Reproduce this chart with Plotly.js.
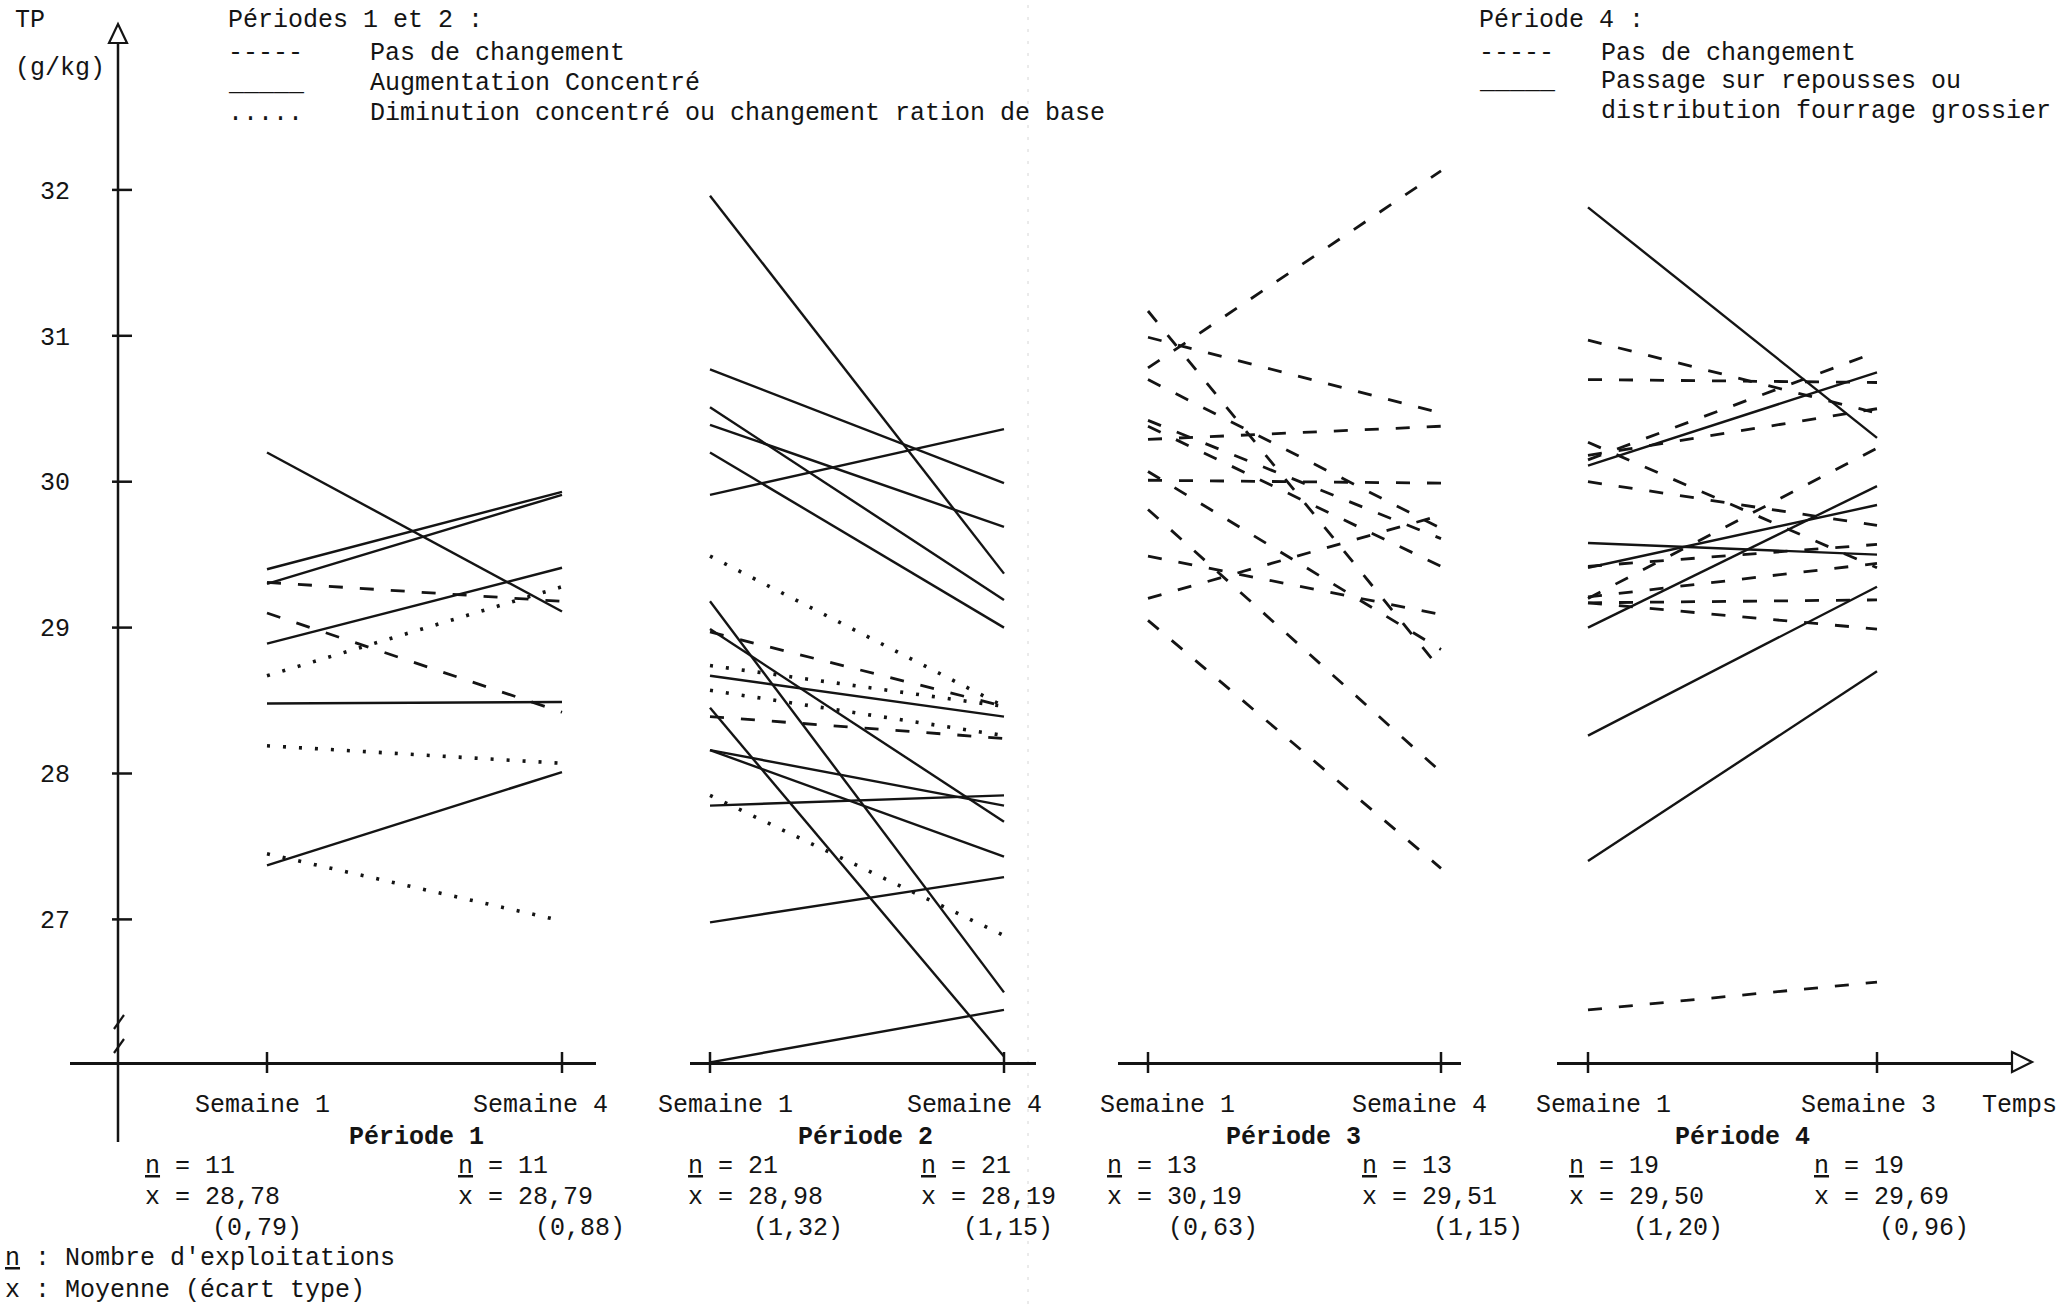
<!DOCTYPE html>
<html><head><meta charset="utf-8">
<script src="https://cdn.plot.ly/plotly-3.0.1.min.js"></script>
<style>html,body{margin:0;padding:0;background:#fff}</style>
</head><body>
<div id="chart" style="width:2063px;height:1304px"></div>
<script>
// ---------------- DATA ----------------
const periodNames = ["Période 1", "Période 2", "Période 3", "Période 4"];
const weekLabels = [["Semaine 1", "Semaine 4"], ["Semaine 1", "Semaine 4"], ["Semaine 1", "Semaine 4"], ["Semaine 1", "Semaine 3"]];
const weekNumbers = [[1, 4], [1, 4], [1, 4], [1, 3]];
const yTicks = [27, 28, 29, 30, 31, 32];

// Période 1 (TP g/kg, first and last week per farm)
const p1Start = [30.20, 29.40, 29.30, 28.89, 28.48, 27.37, 29.31, 29.10, 28.67, 28.19, 27.45];
const p1End   = [29.11, 29.93, 29.91, 29.41, 28.49, 28.01, 29.18, 28.42, 29.28, 28.07, 26.99];
const p1Kind  = ["aug", "aug", "aug", "aug", "aug", "aug", "pas", "pas", "dim", "dim", "dim"];

// Période 2
const p2Start = [31.96, 30.77, 30.51, 30.39, 30.20, 29.91, 29.18, 28.99, 28.67, 28.45, 28.16, 28.16, 27.78, 26.98, 26.02, 28.97, 28.39, 29.49, 28.74, 28.57, 27.85];
const p2End   = [29.37, 29.99, 29.19, 29.69, 29.00, 30.36, 26.50, 27.67, 28.39, 26.06, 27.78, 27.43, 27.85, 27.29, 26.38, 28.46, 28.24, 28.46, 28.46, 28.26, 26.89];
const p2Kind  = ["aug", "aug", "aug", "aug", "aug", "aug", "aug", "aug", "aug", "aug", "aug", "aug", "aug", "aug", "aug", "pas", "pas", "dim", "dim", "dim", "dim"];

// Période 3
const p3Start = [31.17, 30.99, 30.78, 30.70, 30.42, 30.38, 30.29, 30.07, 30.01, 29.81, 29.49, 29.20, 29.05];
const p3End   = [28.71, 30.47, 32.13, 29.68, 29.61, 29.42, 30.38, 28.85, 29.99, 28.01, 29.09, 29.77, 27.35];
const p3Kind  = ["pas", "pas", "pas", "pas", "pas", "pas", "pas", "pas", "pas", "pas", "pas", "pas", "pas"];

// Période 4
const p4Start = [31.88, 30.11, 29.58, 29.41, 29.00, 28.26, 27.40, 30.97, 30.70, 30.18, 30.15, 30.27, 30.00, 29.20, 29.21, 29.17, 29.17, 29.42, 26.38];
const p4End   = [30.30, 30.75, 29.50, 29.84, 29.97, 29.28, 28.70, 30.47, 30.68, 30.50, 30.89, 29.41, 29.70, 30.23, 29.44, 29.19, 28.99, 29.57, 26.57];
const p4Kind  = ["rep", "rep", "rep", "rep", "rep", "rep", "rep", "pas", "pas", "pas", "pas", "pas", "pas", "pas", "pas", "pas", "pas", "pas", "pas"];

// Summary statistics (n, mean, sd) for first / last week
const nValues    = [[11, 11], [21, 21], [13, 13], [19, 19]];
const meanValues = [[28.78, 28.79], [28.98, 28.19], [30.19, 29.51], [29.50, 29.69]];
const sdValues   = [[0.79, 0.88], [1.32, 1.15], [0.63, 1.15], [1.20, 0.96]];

// ---------------- LAYOUT CONSTANTS ----------------
const W = 2063, H = 1304;
const px = x => x / W;
const py = y => 1 - y / H;
const FONT = "Liberation Mono, Courier New, monospace";
const INK = "#141414";
const FS = 25;

const yPixTop = 40, yPixBottom = 1062, y27Pix = 919.4, y32Pix = 189.9;
const pxPerUnit = (y27Pix - y32Pix) / 5;
const yRange = [27 - (yPixBottom - y27Pix) / pxPerUnit, 27 + (y27Pix - yPixTop) / pxPerUnit];
const yAxisX = 118;

const axisSegments = [[70, 596], [690, 1036], [1118, 1461], [1557, 2012]];
const tickPix = [[267, 562], [710, 1004], [1148, 1441], [1588, 1877]];

const lineStyles = {
  pas: {dash: "14px,17px", width: 2.8},
  aug: {dash: "solid", width: 2.4},
  dim: {dash: "3px,13px", width: 3.6},
  rep: {dash: "solid", width: 2.4}
};

const panels = [
  {start: p1Start, end: p1End, kind: p1Kind},
  {start: p2Start, end: p2End, kind: p2Kind},
  {start: p3Start, end: p3End, kind: p3Kind},
  {start: p4Start, end: p4End, kind: p4Kind}
];

// ---------------- TRACES ----------------
const traces = [];
panels.forEach((p, i) => {
  const xa = "x" + (i === 0 ? "" : (i + 1));
  p.start.forEach((s, k) => {
    const st = lineStyles[p.kind[k]];
    traces.push({
      type: "scatter", mode: "lines",
      x: weekNumbers[i], y: [s, p.end[k]],
      xaxis: xa, yaxis: "y",
      line: {color: INK, width: st.width, dash: st.dash},
      hoverinfo: "skip", showlegend: false
    });
  });
});

// ---------------- AXES ----------------
const layout = {
  width: W, height: H,
  margin: {l: 0, r: 0, t: 0, b: 0},
  paper_bgcolor: "#fff", plot_bgcolor: "rgba(0,0,0,0)",
  showlegend: false,
  font: {family: FONT, size: FS, color: INK},
  yaxis: {
    domain: [py(yPixBottom), py(yPixTop)], range: yRange,
    anchor: "free", position: px(yAxisX), side: "left",
    showline: false, showgrid: false, zeroline: false,
    ticks: "", tickvals: yTicks, ticktext: yTicks.map(String),
    tickfont: {family: FONT, size: FS, color: INK},
    ticklabelstandoff: 48, fixedrange: true
  },
  shapes: [], annotations: []
};

axisSegments.forEach((seg, i) => {
  const [a, b] = weekNumbers[i];
  const [t1, t2] = tickPix[i];
  const s = (t2 - t1) / (b - a);
  const key = "xaxis" + (i === 0 ? "" : (i + 1));
  layout[key] = {
    domain: [px(seg[0]), px(seg[1])],
    range: [a + (seg[0] - t1) / s, a + (seg[1] - t1) / s],
    anchor: "y", showline: true, linewidth: 2.5, linecolor: INK,
    showgrid: false, zeroline: false, ticks: "", showticklabels: false,
    fixedrange: true
  };
  // crossing tick marks
  weekNumbers[i].forEach(w => {
    layout.shapes.push({type: "line", xref: "x" + (i === 0 ? "" : (i + 1)), yref: "paper",
      x0: w, x1: w, y0: py(yPixBottom + 11), y1: py(yPixBottom - 10),
      line: {color: INK, width: 2.5}});
  });
});

// y axis line, arrow, ticks, break marks
layout.shapes.push({type: "line", xref: "paper", yref: "paper",
  x0: px(yAxisX), x1: px(yAxisX), y0: py(1142), y1: py(42), line: {color: INK, width: 2.5}});
layout.shapes.push({type: "path", xref: "paper", yref: "paper",
  path: `M${px(yAxisX - 9)},${py(43)} L${px(yAxisX)},${py(24)} L${px(yAxisX + 9)},${py(43)} Z`,
  fillcolor: "#fff", line: {color: INK, width: 2.2}});
yTicks.forEach(v => {
  layout.shapes.push({type: "line", xref: "paper", yref: "y",
    x0: px(yAxisX - 6), x1: px(yAxisX + 14), y0: v, y1: v, line: {color: INK, width: 2.5}});
});
[1022, 1046].forEach(y => {
  layout.shapes.push({type: "line", xref: "paper", yref: "paper",
    x0: px(yAxisX - 4), x1: px(yAxisX + 6), y0: py(y + 7), y1: py(y - 7), line: {color: INK, width: 2.2}});
});
// time arrow at the end of the last axis
layout.shapes.push({type: "path", xref: "paper", yref: "paper",
  path: `M${px(2012)},${py(1052)} L${px(2032)},${py(1062)} L${px(2012)},${py(1072)} Z`,
  fillcolor: "#fff", line: {color: INK, width: 2.2}});
// faint fold line of the scanned page
layout.shapes.push({type: "line", xref: "paper", yref: "paper",
  x0: px(1028), x1: px(1028), y0: py(1304), y1: py(0),
  line: {color: "#d6d6d6", width: 1, dash: "3px,9px"}, layer: "below"});

// ---------------- TEXT ----------------
function txt(x, y, text, opts) {
  layout.annotations.push(Object.assign({
    xref: "paper", yref: "paper", x: px(x), y: py(y), text: text,
    xanchor: "left", yanchor: "middle", showarrow: false,
    font: {family: FONT, size: FS, color: INK}
  }, opts || {}));
}
txt(13, 20, "TP");
txt(13, 68, "(g/kg)");

txt(226, 21, "Périodes 1 et 2 :");
txt(226, 54, "-----"); txt(368, 54, "Pas de changement");
txt(226, 83, "_____"); txt(368, 83, "Augmentation Concentré");
txt(226, 113, "....."); txt(368, 113, "Diminution concentré ou changement ration de base");

txt(1477, 20, "Période 4 :");
txt(1477, 53, "-----"); txt(1599, 53, "Pas de changement");
txt(1477, 82, "_____"); txt(1599, 82, "Passage sur repousses ou");
txt(1599, 112, "distribution fourrage grossier");

const weekLabelX = [[193, 471], [656, 905], [1098, 1350], [1534, 1799]];
const periodLabelX = [347, 796, 1224, 1673];
const statX = [[143, 456], [686, 919], [1105, 1360], [1567, 1812]];
const sdX = [[210, 533], [751, 961], [1166, 1431], [1631, 1877]];
const fmt = v => v.toFixed(2).replace(".", ",");

for (let i = 0; i < 4; i++) {
  for (let j = 0; j < 2; j++) {
    txt(weekLabelX[i][j], 1105, weekLabels[i][j]);
    txt(statX[i][j], 1166, "<u>n</u> = " + nValues[i][j]);
    txt(statX[i][j], 1197, "x = " + fmt(meanValues[i][j]));
    txt(sdX[i][j], 1228, "(" + fmt(sdValues[i][j]) + ")");
  }
  txt(periodLabelX[i], 1137, "<b>" + periodNames[i] + "</b>");
}
txt(1980, 1105, "Temps");
txt(3, 1258, "<u>n</u> : Nombre d'exploitations");
txt(3, 1290, "x : Moyenne (écart type)");

Plotly.newPlot("chart", traces, layout, {staticPlot: true, displayModeBar: false});
</script>
</body></html>
